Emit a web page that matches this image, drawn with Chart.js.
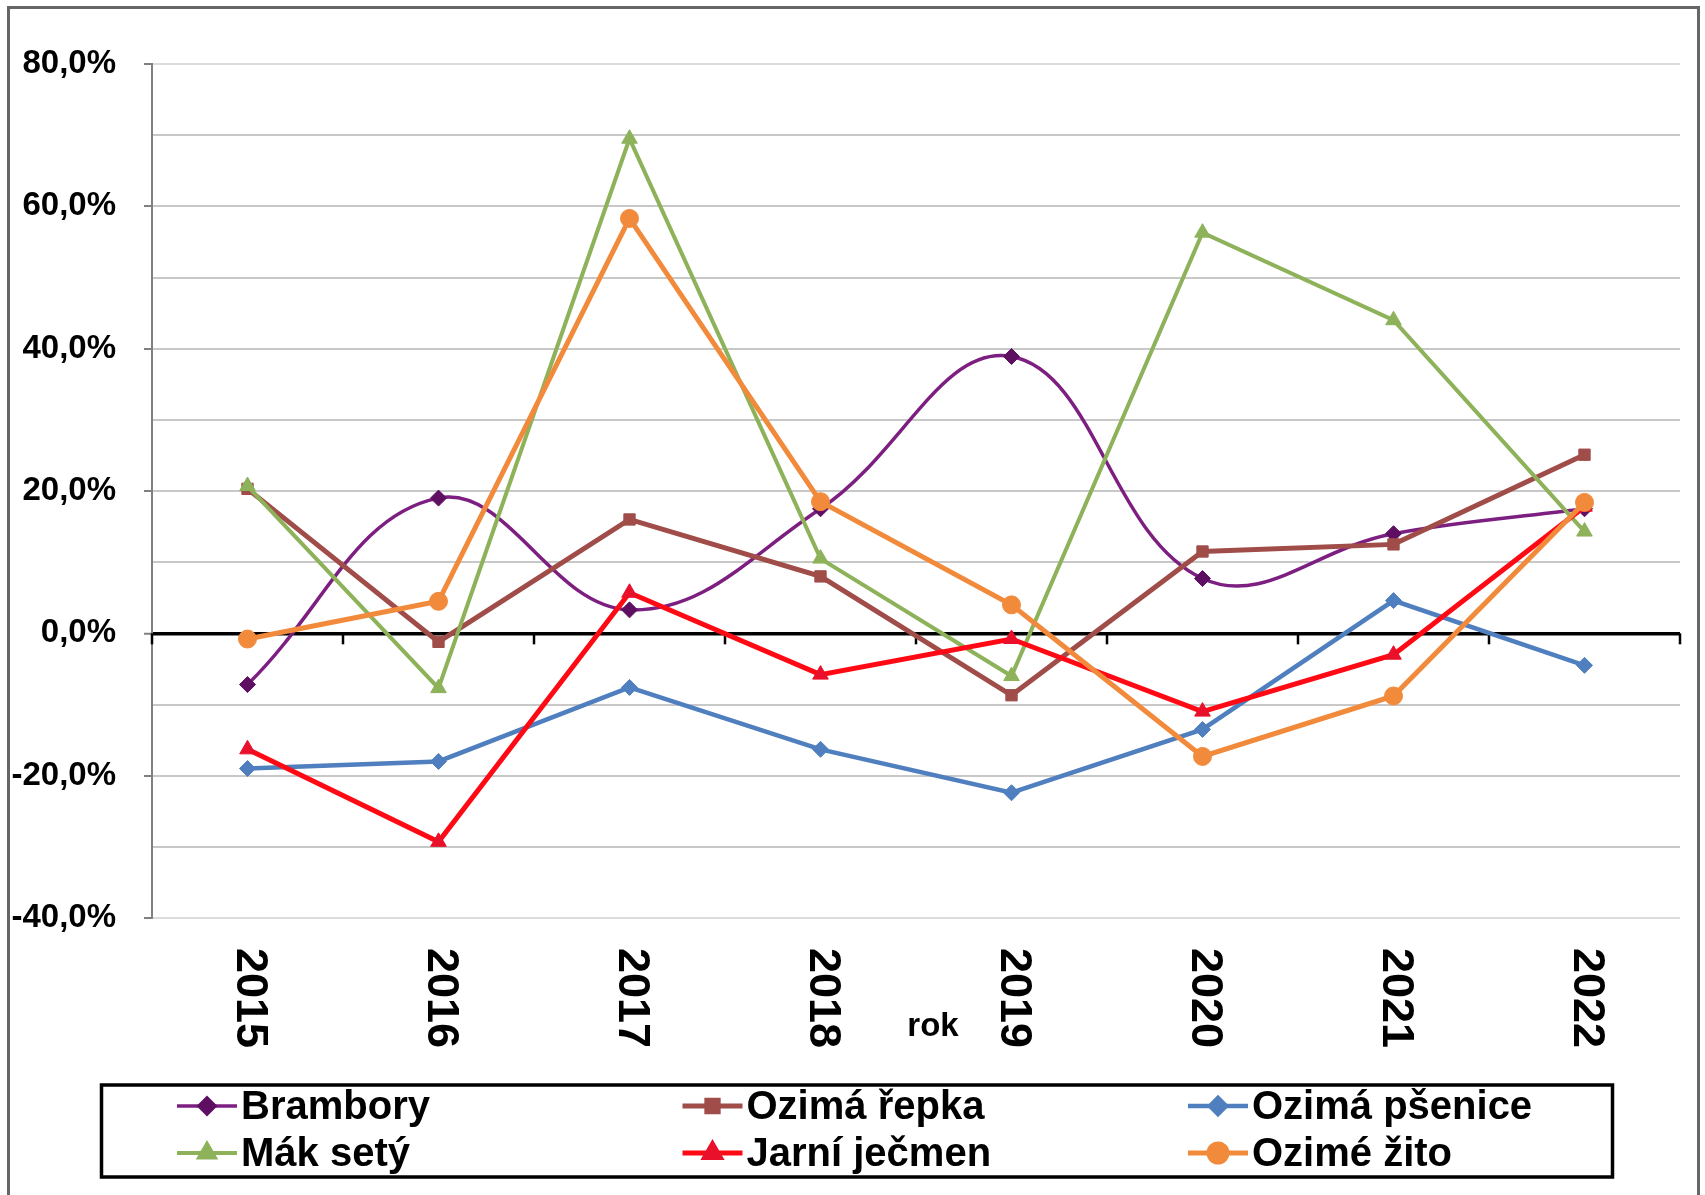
<!DOCTYPE html>
<html>
<head>
<meta charset="utf-8">
<script src="https://cdn.jsdelivr.net/npm/chart.js@4.4.1/dist/chart.umd.min.js"></script>
<style>
  html, body { margin: 0; padding: 0; background: #fff; }
  #wrap { width: 1705px; height: 1195px; }
</style>
</head>
<body>
<div id="wrap"><canvas id="chart" width="1705" height="1195"></canvas></div>
<script>
// categories and values (in %)
const years = ['2015', '2016', '2017', '2018', '2019', '2020', '2021', '2022'];
const brambory      = [-7.2, 19.0, 3.3, 17.5, 38.9, 7.7, 14.0, 17.5];
const ozimaRepka    = [20.3, -1.2, 16.0, 8.0, -8.7, 11.5, 12.5, 25.1];
const ozimaPsenice  = [-19.0, -18.0, -7.6, -16.3, -22.4, -13.5, 4.6, -4.5];
const makSety       = [20.7, -7.7, 69.5, 10.5, -6.0, 56.3, 44.0, 14.3];
const jarniJecmen   = [-16.3, -29.3, 5.7, -5.8, -0.8, -11.0, -3.0, 17.8];
const ozimeZito     = [-0.8, 4.5, 58.3, 18.5, 4.0, -17.3, -8.8, 18.4];
const seriesNames = ['Brambory', 'Ozimá řepka', 'Ozimá pšenice', 'Mák setý', 'Jarní ječmen', 'Ozimé žito'];
const yLabelValues = [-40, -20, 0, 20, 40, 60, 80];
const axisTitle = 'rok';

const FONT = "'Liberation Sans', Arial, sans-serif";

const series = [
    { data: brambory,     color: '#7d1f80', pointColor: '#5e0f62', style: 'rectRot',  r: 8, width: 3.5, tension: 0.4 },
    { data: ozimaRepka,   color: '#a04c49', pointColor: '#a04c49', style: 'rect',     r: 8, width: 5 },
    { data: ozimaPsenice, color: '#4f7fbe', pointColor: '#4f7fbe', style: 'rectRot',  r: 8, width: 4.5 },
    { data: makSety,      color: '#8db25a', pointColor: '#8db25a', style: 'triangle', r: 9, width: 4 },
    { data: jarniJecmen,  color: '#ff0a14', pointColor: '#e8102a', style: 'triangle', r: 9, width: 5 },
    { data: ozimeZito,    color: '#f28a3c', pointColor: '#f28a3c', style: 'circle',   r: 9, width: 5 }
];

function fmtPct(v) {
    return v.toFixed(1).replace('.', ',') + '%';
}

function drawMarker(ctx, style, r, x, y) {
    if (Chart.helpers && Chart.helpers.drawPoint) {
        Chart.helpers.drawPoint(ctx, { pointStyle: style, radius: r, rotation: 0, borderWidth: 1 }, x, y);
        return;
    }
    ctx.beginPath();
    ctx.arc(x, y, r, 0, Math.PI * 2);
    ctx.fill();
}

function gridColor(c) {
    if (!c.tick) return '#c8c8c8';
    if (c.tick.value === 0) return '#000';
    if (c.tick.value === 80 || c.tick.value === -40) return '#dcdcdc';
    return '#c8c8c8';
}

// zero-axis ticks, rotated year labels, axis title, legend and frame
const decor = {
    id: 'decor',
    beforeDatasetsDraw(chart) {
        const ctx = chart.ctx;
        const xs = chart.scales.x, ys = chart.scales.y;
        const y0 = ys.getPixelForValue(0);
        ctx.save();
        ctx.strokeStyle = '#000';
        ctx.lineWidth = 2.5;
        for (let k = 0; k <= years.length; k++) {
            const x = Math.round(xs.getPixelForValue(k - 0.5));
            ctx.beginPath();
            ctx.moveTo(x, y0);
            ctx.lineTo(x, y0 + 11);
            ctx.stroke();
        }
        ctx.restore();
    },
    afterDraw(chart) {
        const ctx = chart.ctx;
        const xs = chart.scales.x;
        const area = chart.chartArea;
        ctx.save();

        // year labels, reading top to bottom
        ctx.fillStyle = '#000';
        ctx.font = 'bold 45px ' + FONT;
        ctx.textAlign = 'left';
        ctx.textBaseline = 'middle';
        years.forEach((yr, i) => {
            ctx.save();
            ctx.translate(xs.getPixelForValue(i) + 2, area.bottom + 30);
            ctx.rotate(Math.PI / 2);
            ctx.fillText(yr, 0, 0);
            ctx.restore();
        });

        // axis title
        ctx.font = 'bold 33px ' + FONT;
        ctx.textAlign = 'center';
        ctx.textBaseline = 'alphabetic';
        ctx.fillText(axisTitle, (area.left + area.right) / 2 + 17, 1036);

        // legend
        ctx.strokeStyle = '#000';
        ctx.lineWidth = 3.5;
        ctx.strokeRect(101.5, 1085, 1511, 92);
        ctx.font = 'bold 40px ' + FONT;
        ctx.textAlign = 'left';
        ctx.textBaseline = 'middle';
        series.forEach((s, i) => {
            const x0 = 177 + (i % 3) * 505.5;
            const y = 1106 + Math.floor(i / 3) * 47;
            ctx.strokeStyle = s.color;
            ctx.lineWidth = s.width;
            ctx.beginPath();
            ctx.moveTo(x0, y);
            ctx.lineTo(x0 + 60, y);
            ctx.stroke();
            ctx.fillStyle = s.pointColor;
            ctx.strokeStyle = s.pointColor;
            drawMarker(ctx, s.style, s.r, x0 + 30, y);
            ctx.fillStyle = '#000';
            ctx.fillText(seriesNames[i], x0 + 64, y + 2);
        });

        // outer frame
        ctx.strokeStyle = '#666';
        ctx.lineWidth = 3;
        ctx.strokeRect(8.5, 7.5, 1690, 1200);
        ctx.restore();
    }
};

const ctx = document.getElementById('chart').getContext('2d');

new Chart(ctx, {
    type: 'line',
    data: {
        labels: years,
        datasets: series.map((s, i) => ({
            label: seriesNames[i],
            data: s.data,
            borderColor: s.color,
            backgroundColor: s.pointColor,
            pointStyle: s.style,
            pointRadius: s.r,
            pointBackgroundColor: s.pointColor,
            pointBorderColor: s.pointColor,
            pointBorderWidth: 1,
            borderWidth: s.width,
            tension: s.tension || 0,
            order: series.length - i,
            clip: false
        }))
    },
    options: {
        responsive: false,
        animation: false,
        devicePixelRatio: 1,
        layout: { padding: { top: 64, right: 25, left: 0, bottom: 0 } },
        plugins: {
            legend: { display: false },
            tooltip: { enabled: false }
        },
        scales: {
            x: {
                offset: true,
                grid: { display: false },
                border: { display: false },
                ticks: { display: false },
                afterFit: scale => { scale.height = 277; }
            },
            y: {
                min: -40,
                max: 80,
                ticks: {
                    stepSize: 10,
                    autoSkip: false,
                    color: '#000',
                    padding: 28,
                    font: { family: FONT, size: 33, weight: 'bold' },
                    callback: v => yLabelValues.includes(v) ? fmtPct(v) : ''
                },
                grid: {
                    color: gridColor,
                    lineWidth: c => (c.tick && c.tick.value === 0) ? 3.5 : 2,
                    tickLength: 8,
                    tickWidth: 2,
                    tickColor: c => (c.tick && yLabelValues.includes(c.tick.value)) ? '#808080' : 'rgba(0,0,0,0)'
                },
                border: { color: '#808080', width: 2 },
                afterFit: scale => { scale.width = 152; }
            }
        }
    },
    plugins: [decor]
});
</script>
</body>
</html>
